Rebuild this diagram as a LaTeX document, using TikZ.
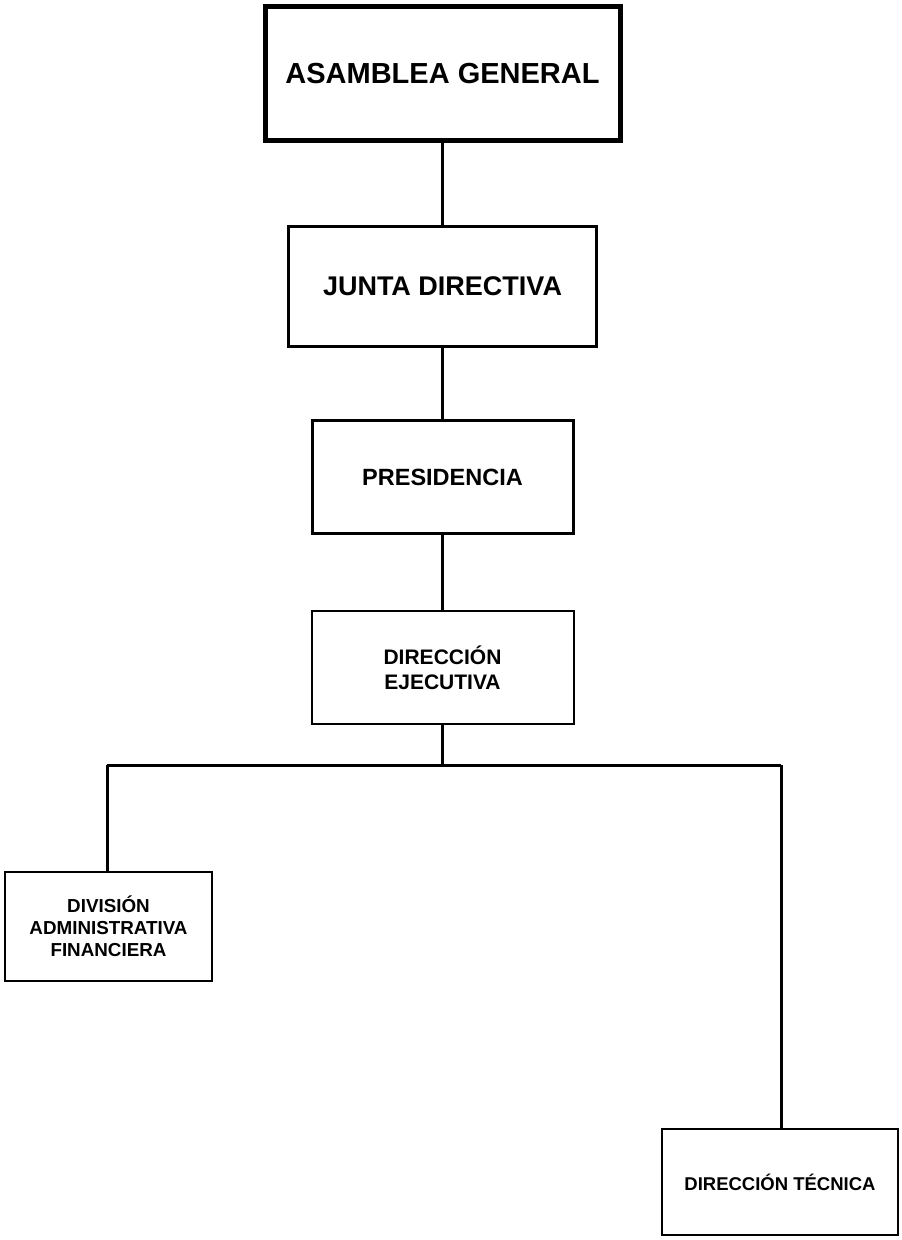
\documentclass[tikz,border=0pt]{standalone}
\usepackage{fontspec}
\setmainfont{Liberation Sans}
\usepackage{tikz}

\tikzset{
  unit/.style={draw,rectangle,inner sep=0pt,align=center,font=\bfseries},
  link/.style={line width=3pt}
}

\begin{document}
\begin{tikzpicture}[x=1pt,y=-1pt]
   \useasboundingbox (0,0) rectangle (902,1240);
   % top levels
   \node (asamblea) at (442.5,73.5) [unit,line width=5pt,minimum width=355pt,minimum height=134pt,
        font=\bfseries\fontsize{29}{34}\selectfont] {ASAMBLEA GENERAL};
   \node (junta) at (442.5,286.5) [unit,line width=3pt,minimum width=308pt,minimum height=120pt,
        font=\bfseries\fontsize{27}{32}\selectfont] {JUNTA DIRECTIVA};
   \node (presidencia) at (442.5,477) [unit,line width=3pt,minimum width=261pt,minimum height=113pt,
        font=\bfseries\fontsize{23.5}{28}\selectfont] {PRESIDENCIA};
   \node (ejecutiva) at (442.5,667.5) [unit,line width=2pt,minimum width=262pt,minimum height=113pt,
        font=\bfseries\fontsize{21}{25}\selectfont] {DIRECCIÓN\\EJECUTIVA};
   % lower level
   \node (division) at (108.5,926.5) [unit,line width=2pt,minimum width=207pt,minimum height=109pt,
        font=\bfseries\fontsize{18.8}{22}\selectfont] {DIVISIÓN\\ADMINISTRATIVA\\FINANCIERA};
   \node (tecnica) at (780,1182) [unit,line width=1.5pt,minimum width=236pt,minimum height=106pt,
        font=\bfseries\fontsize{18.5}{22}\selectfont] {DIRECCIÓN TÉCNICA};
   % connectors
   \coordinate (busL) at (107,765);
   \coordinate (busR) at (781,765);
   \draw[link] (asamblea) -- (junta);
   \draw[link] (junta) -- (presidencia);
   \draw[link] (presidencia) -- (ejecutiva);
   \draw[link] (ejecutiva.south) -- (ejecutiva.south |- busL);
   \draw[link] (busL) -- (busR);
   \draw[link] (busL) -- (busL |- division.north);
   \draw[link] (busR) -- (busR |- tecnica.north);
\end{tikzpicture}
\end{document}
